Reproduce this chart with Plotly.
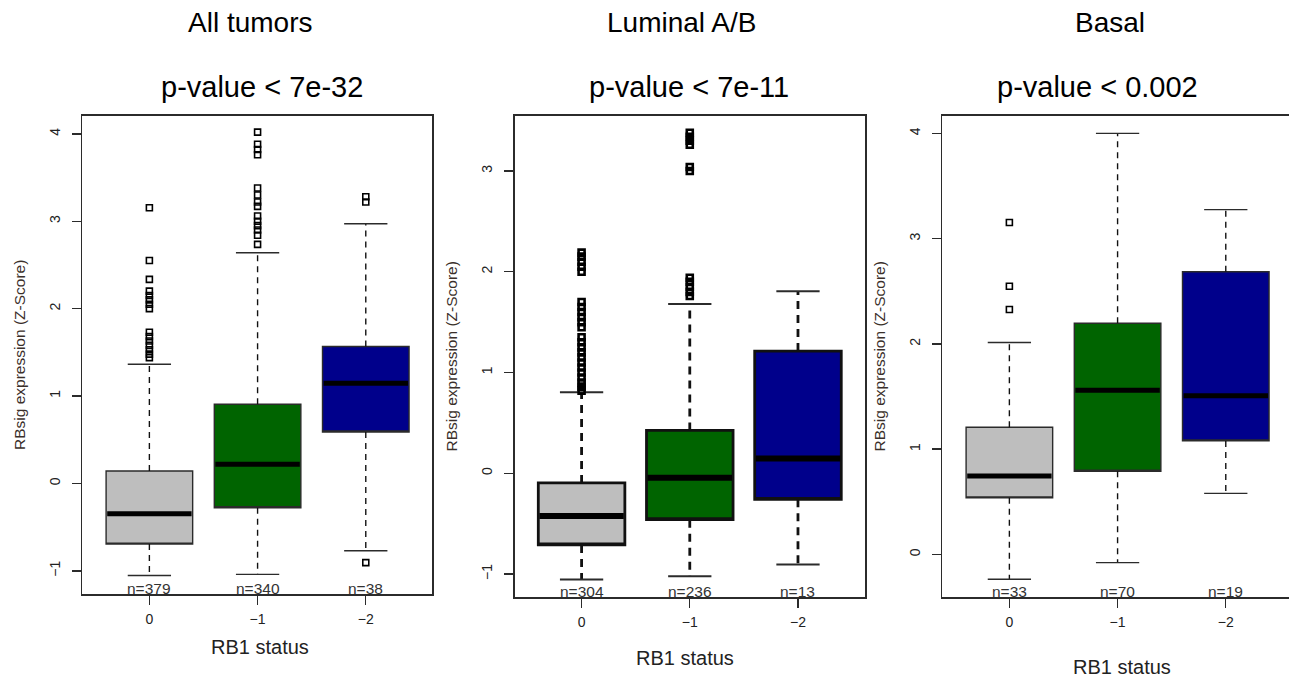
import plotly.graph_objects as go

# ---------------- data ----------------
panel_titles = ["All tumors", "Luminal A/B", "Basal"]
pvalue_labels = ["p-value < 7e-32", "p-value < 7e-11", "p-value < 0.002"]
categories = ["0", "−1", "−2"]
counts = [[379, 340, 38], [304, 236, 13], [33, 70, 19]]

q1 = [[-0.694, -0.278, 0.588], [-0.711, -0.461, -0.259], [0.538, 0.791, 1.079]]
median = [[-0.347, 0.220, 1.147], [-0.425, -0.045, 0.147], [0.745, 1.561, 1.508]]
q3 = [[0.143, 0.906, 1.567], [-0.096, 0.425, 1.213], [1.209, 2.197, 2.685]]
whisker_low = [[-1.053, -1.040, -0.771], [-1.054, -1.021, -0.906], [-0.236, -0.077, 0.580]]
whisker_high = [[1.363, 2.640, 2.971], [0.805, 1.680, 1.806], [2.014, 4.000, 3.276]]

outliers = [
    [
        [3.155, 2.55, 2.335, 2.20, 2.15, 2.10, 2.05, 2.00, 1.73, 1.68, 1.63, 1.58, 1.53, 1.48, 1.44],
        [4.02, 3.88, 3.82, 3.76, 3.38, 3.30, 3.22, 3.17, 3.06, 3.00, 2.95, 2.90, 2.84, 2.735],
        [3.28, 3.22, -0.906],
    ],
    [
        [0.82, 0.86, 0.90, 0.95, 1.00, 1.05, 1.10, 1.15, 1.20, 1.25, 1.30, 1.35, 1.45, 1.50,
         1.55, 1.60, 1.65, 1.70, 2.00, 2.05, 2.10, 2.15, 2.19],
        [1.76, 1.80, 1.85, 1.90, 1.94, 3.00, 3.04, 3.26, 3.30, 3.34, 3.38],
        [],
    ],
    [
        [3.153, 2.548, 2.327],
        [],
        [],
    ],
]

y_ticks = [[-1, 0, 1, 2, 3, 4], [-1, 0, 1, 2, 3], [0, 1, 2, 3, 4]]
y_ranges = [[-1.265, 4.204], [-1.228, 3.546], [-0.404, 4.165]]

# ---------------- styles / layout geometry ----------------
W, H = 1289, 679
box_colors = ["#BEBEBE", "#006400", "#00008B"]
frame_px = [(82.3, 432.3, 116, 594), (514.5, 865, 116, 597), (942.3, 1289, 116, 597)]
px_per_unit = 108.2
box_width = 0.8
staple_half = 0.2
line_w = [1.4, 2.8, 1.4]
median_w = [5, 6, 5]
marker_lw = [1.6, 2.6, 1.6]
frame_color = "#2b2b2b"
FONT = "Liberation Sans, Arial, sans-serif"
title_x = [250, 681, 1110]
pval_x = [262, 689, 1097]
xtitle_pos = [(260, 647), (685, 658), (1122, 667)]
ytitle_x = [19, 451, 879]
n_y = [588, 591, 591]

positions = [1, 2, 3]

fig = go.Figure()
annotations = []

for p in range(3):
    xa = "x" if p == 0 else f"x{p+1}"
    ya = "y" if p == 0 else f"y{p+1}"
    box_line = frame_color if p != 1 else "#111111"
    # boxes
    for c in range(3):
        fig.add_trace(go.Box(
            x=[positions[c]], q1=[q1[p][c]], median=[q1[p][c]], q3=[q3[p][c]],
            lowerfence=[q1[p][c]], upperfence=[q3[p][c]],
            width=box_width, fillcolor=box_colors[c],
            line=dict(color=box_line, width=line_w[p]),
            boxpoints=False, showlegend=False, hoverinfo="skip",
            xaxis=xa, yaxis=ya,
        ))
    # whiskers (dashed)
    wx, wy = [], []
    for c in range(3):
        wx += [positions[c], positions[c], None, positions[c], positions[c], None]
        wy += [q3[p][c], whisker_high[p][c], None, q1[p][c], whisker_low[p][c], None]
    dash = "6px,5px" if p != 1 else "8px,6px"
    fig.add_trace(go.Scatter(x=wx, y=wy, mode="lines",
                             line=dict(color="#111111", width=line_w[p], dash=dash),
                             showlegend=False, hoverinfo="skip", xaxis=xa, yaxis=ya))
    # staples
    sx, sy = [], []
    for c in range(3):
        for v in (whisker_high[p][c], whisker_low[p][c]):
            sx += [positions[c] - staple_half, positions[c] + staple_half, None]
            sy += [v, v, None]
    fig.add_trace(go.Scatter(x=sx, y=sy, mode="lines",
                             line=dict(color=frame_color, width=min(line_w[p], 2.0)),
                             showlegend=False, hoverinfo="skip", xaxis=xa, yaxis=ya))
    # medians
    mx, my = [], []
    for c in range(3):
        mx += [positions[c] - box_width / 2 + 0.01, positions[c] + box_width / 2 - 0.01, None]
        my += [median[p][c], median[p][c], None]
    fig.add_trace(go.Scatter(x=mx, y=my, mode="lines",
                             line=dict(color="black", width=median_w[p]),
                             showlegend=False, hoverinfo="skip", xaxis=xa, yaxis=ya))
    # outliers
    ox, oy = [], []
    for c in range(3):
        ox += [positions[c]] * len(outliers[p][c])
        oy += outliers[p][c]
    if oy:
        fig.add_trace(go.Scatter(x=ox, y=oy, mode="markers",
                                 marker=dict(symbol="square-open", size=6, color="black",
                                             line=dict(color="black", width=marker_lw[p])),
                                 showlegend=False, hoverinfo="skip", xaxis=xa, yaxis=ya))

    l, r, t, b = frame_px[p]
    x_lo = 0.38
    x_hi = x_lo + (r - l) / px_per_unit
    xkey = "xaxis" if p == 0 else f"xaxis{p+1}"
    ykey = "yaxis" if p == 0 else f"yaxis{p+1}"
    fig.layout[xkey] = dict(
        domain=[l / W, min(r / W, 1.0)], range=[x_lo, x_hi], anchor=ya,
        tickvals=positions, ticktext=categories, ticks="outside", ticklen=9,
        tickwidth=1.4, tickcolor=frame_color,
        showline=True, mirror=True, linecolor=frame_color, linewidth=1.6,
        showgrid=False, zeroline=False, ticklabelstandoff=3,
        tickfont=dict(family=FONT, size=14, color="#222222"),
    )
    fig.layout[ykey] = dict(
        domain=[1 - b / H, 1 - t / H], range=y_ranges[p], anchor=xa,
        tickvals=y_ticks[p], ticks="outside", ticklen=9, tickwidth=1.4, tickcolor=frame_color,
        showline=True, mirror=(p != 2), linecolor=frame_color, linewidth=1.6,
        showgrid=False, zeroline=False, tickangle=-90, ticklabelstandoff=6,
        tickfont=dict(family=FONT, size=14, color="#222222"),
    )

    # titles
    annotations.append(dict(text=panel_titles[p], x=title_x[p] / W, y=1 - 23 / H,
                            xref="paper", yref="paper", showarrow=False,
                            font=dict(family=FONT, size=28, color="black"),
                            xanchor="center", yanchor="middle"))
    annotations.append(dict(text=pvalue_labels[p], x=pval_x[p] / W, y=1 - 87 / H,
                            xref="paper", yref="paper", showarrow=False,
                            font=dict(family=FONT, size=29, color="black"),
                            xanchor="center", yanchor="middle"))
    annotations.append(dict(text="RB1 status", x=xtitle_pos[p][0] / W, y=1 - xtitle_pos[p][1] / H,
                            xref="paper", yref="paper", showarrow=False,
                            font=dict(family=FONT, size=20, color="#222222"),
                            xanchor="center", yanchor="middle"))
    annotations.append(dict(text="RBsig expression (Z-Score)", x=ytitle_x[p] / W,
                            y=1 - ((t + b) / 2) / H, textangle=-90,
                            xref="paper", yref="paper", showarrow=False,
                            font=dict(family=FONT, size=15.5, color="#3a2f2a"),
                            xanchor="center", yanchor="middle"))
    for c in range(3):
        annotations.append(dict(text=f"n={counts[p][c]}", x=positions[c], y=1 - n_y[p] / H,
                                xref=xa, yref="paper", showarrow=False,
                                font=dict(family=FONT, size=15.5, color="#333333"),
                                xanchor="center", yanchor="middle"))

fig.update_layout(
    width=W, height=H, margin=dict(l=0, r=0, t=0, b=0),
    paper_bgcolor="white", plot_bgcolor="white",
    annotations=annotations, showlegend=False,
)

fig.write_html(
    "out.html",
    config={"displayModeBar": False, "staticPlot": True},
    post_script="document.body.style.margin='0';document.body.style.overflow='hidden';",
)
